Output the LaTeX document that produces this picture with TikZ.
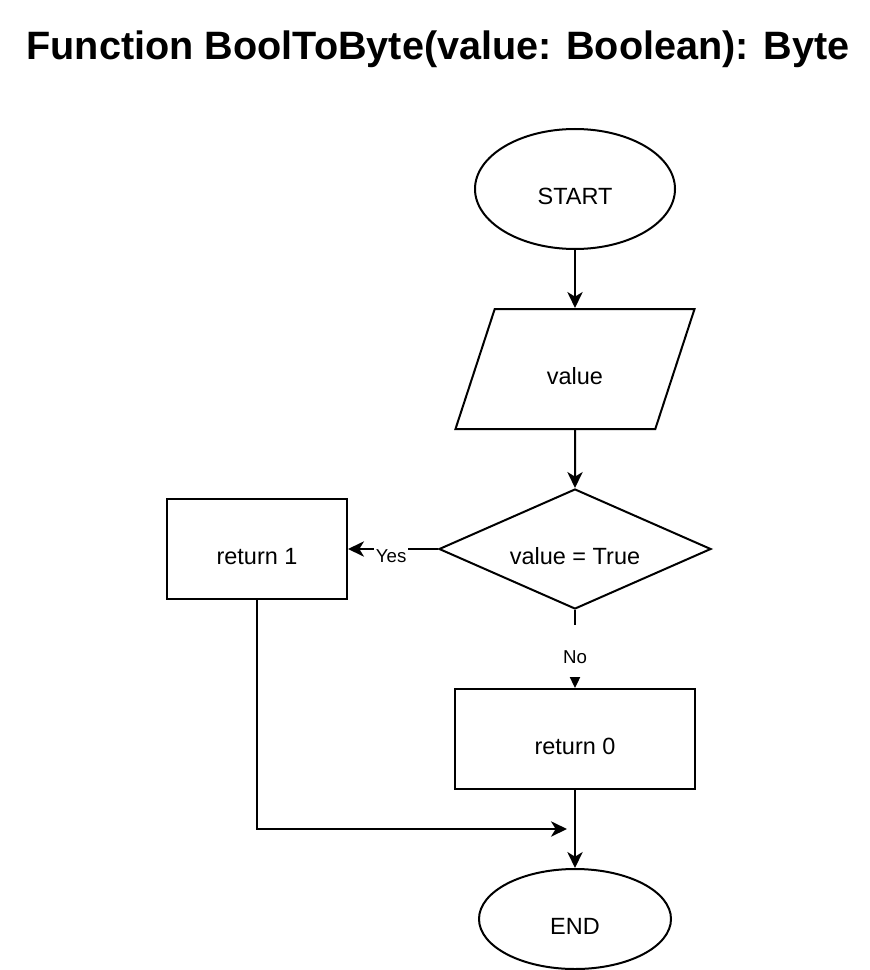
\documentclass[tikz,border=0pt]{standalone}
\usepackage{fontspec}
\setmainfont{Liberation Sans}
\usetikzlibrary{arrows.meta,shapes.geometric}

\tikzset{
  flow/.style={line width=1.5pt,-{Stealth[length=12pt,width=11.5pt,inset=3.5pt]}},
  box/.style={draw,line width=1.5pt,text height=23.1pt,text depth=0pt,
    font=\fontsize{17.6}{20}\selectfont},
  terminal/.style={box,ellipse,inner sep=0pt},
  iobox/.style={box,trapezium,trapezium left angle=66,trapezium right angle=114,
    trapezium stretches=true,minimum width=180pt,minimum height=90pt,inner sep=0pt},
  choice/.style={box,diamond,aspect=2.27,minimum width=204pt,minimum height=90pt,inner sep=0pt},
  action/.style={box,rectangle,minimum height=75pt,inner sep=0pt},
  tag/.style={fill=white,inner xsep=1.5pt,inner ysep=3pt,font=\fontsize{14}{16}\selectfont}
}

\begin{document}
\begin{tikzpicture}[x=0.75pt,y=-0.75pt]

\useasboundingbox (0,0) rectangle (870,970);

\node[anchor=base,font=\bfseries\fontsize{29.7}{34}\selectfont] (title) at (438,60) {Function BoolToByte(value: Boolean): Byte};

\node[terminal,minimum width=150pt,minimum height=90pt] (start) at (575,189) {START};
\node[iobox] (value) at (575,369) {value};
\node[choice] (test) at (575,549) {value = True};
\node[action,minimum width=135pt] (ret1) at (257,549) {return 1};
\node[action,minimum width=180pt] (ret0) at (575,739) {return 0};
\node[terminal,minimum width=144pt,minimum height=75pt] (stop) at (575,919) {END};

\coordinate (corner) at (257,829);
\coordinate (join) at (567,829);

\draw[flow] (start) -- (value);
\draw[flow] (value) -- (test);
\draw[flow] (test.west) -- node[tag,pos=0.52,yshift=-5.25pt] {Yes} (ret1.east);
\draw[flow] (test.south) -- node[tag,pos=0.525,text height=18.7pt,text depth=0pt,inner ysep=10.15pt] {No} (ret0.north);
\draw[flow] (ret0) -- (stop);
\draw[flow] (ret1.south) -- (corner) -- (join);

\end{tikzpicture}
\end{document}
